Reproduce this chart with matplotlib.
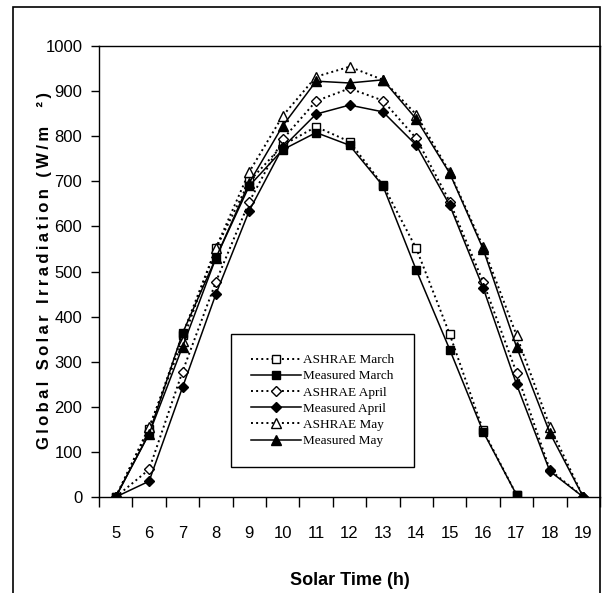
import numpy as np
import matplotlib
matplotlib.use("Agg")
import matplotlib.pyplot as plt
from matplotlib.patches import Rectangle

hours = np.arange(5, 20)
hours_march = np.arange(5, 18)

ashrae_march = [0, 150, 360, 551, 700, 780, 821, 788, 692, 551, 361, 148, 5]
measured_march = [0, 141, 363, 530, 690, 770, 808, 780, 690, 503, 327, 145, 5]
ashrae_april = [0, 61, 278, 477, 655, 793, 878, 906, 879, 795, 655, 477, 276, 60, 0]
measured_april = [0, 35, 243, 450, 635, 775, 849, 869, 854, 780, 647, 464, 250, 57, 0]
ashrae_may = [0, 155, 345, 552, 721, 845, 932, 954, 925, 848, 720, 555, 359, 156, 0]
measured_may = [0, 140, 333, 530, 697, 823, 922, 918, 925, 838, 718, 550, 333, 142, 0]

ylabel_text = 'Global Solar Irradiation (W/m  ²)'

plt.rcParams['font.family'] = ['Liberation Sans', 'DejaVu Sans']

fig = plt.figure(figsize=(6.03, 5.93), dpi=100)
ax = fig.add_axes([99 / 603, 1 - 497 / 593, 501 / 603, 451 / 593])

ms = 6
ax.plot(hours_march, ashrae_march, ls=':', lw=1.4, color='black', marker='s', mfc='white', mec='black', ms=ms, label='ASHRAE March')
ax.plot(hours_march, measured_march, ls='-', lw=1.1, color='black', marker='s', mfc='black', mec='black', ms=ms, label='Measured March')
ax.plot(hours, ashrae_april, ls=':', lw=1.4, color='black', marker='D', mfc='white', mec='black', ms=ms - 0.5, label='ASHRAE April')
ax.plot(hours, measured_april, ls='-', lw=1.1, color='black', marker='D', mfc='black', mec='black', ms=ms - 0.5, label='Measured April')
ax.plot(hours, ashrae_may, ls=':', lw=1.4, color='black', marker='^', mfc='white', mec='black', ms=ms + 1, label='ASHRAE May')
ax.plot(hours, measured_may, ls='-', lw=1.1, color='black', marker='^', mfc='black', mec='black', ms=ms + 1, label='Measured May')

ax.set_xlim(4.5, 19.5)
ax.set_ylim(0, 1000)
ax.set_xticks(hours)
ax.set_xticks(np.arange(4.5, 20, 1), minor=True)
ax.set_yticks(np.arange(0, 1001, 100))
ax.tick_params(axis='x', which='major', length=0, pad=21, labelsize=12)
ax.tick_params(axis='x', which='minor', length=7, width=1, direction='out')
ax.tick_params(axis='y', length=6, width=1, direction='out', pad=6, labelsize=12)
for s in ax.spines.values():
    s.set_linewidth(1.0)
ax.spines['right'].set_color('#444444')

ax.set_ylabel('\u2009'.join(ylabel_text), fontsize=12, fontweight='bold')
ax.yaxis.set_label_coords(-0.094, 0.503)
ax.set_xlabel('Solar Time (h)', fontsize=13, fontweight='bold', labelpad=22)

leg = ax.legend(loc='upper left', bbox_to_anchor=(0.263, 0.361), borderaxespad=0,
                prop={'family': 'Liberation Serif', 'size': 9.5}, handlelength=3.8,
                handletextpad=0.2, labelspacing=0.3, borderpad=1.5, fancybox=False,
                framealpha=1, edgecolor='black')
leg.get_frame().set_linewidth(1.0)

fig.patches.append(Rectangle((13 / 603, -0.1), 587 / 603, 1.1 - 7 / 593, transform=fig.transFigure,
                             fill=False, edgecolor='black', linewidth=1.2))

fig.savefig('out.png', dpi=100)
